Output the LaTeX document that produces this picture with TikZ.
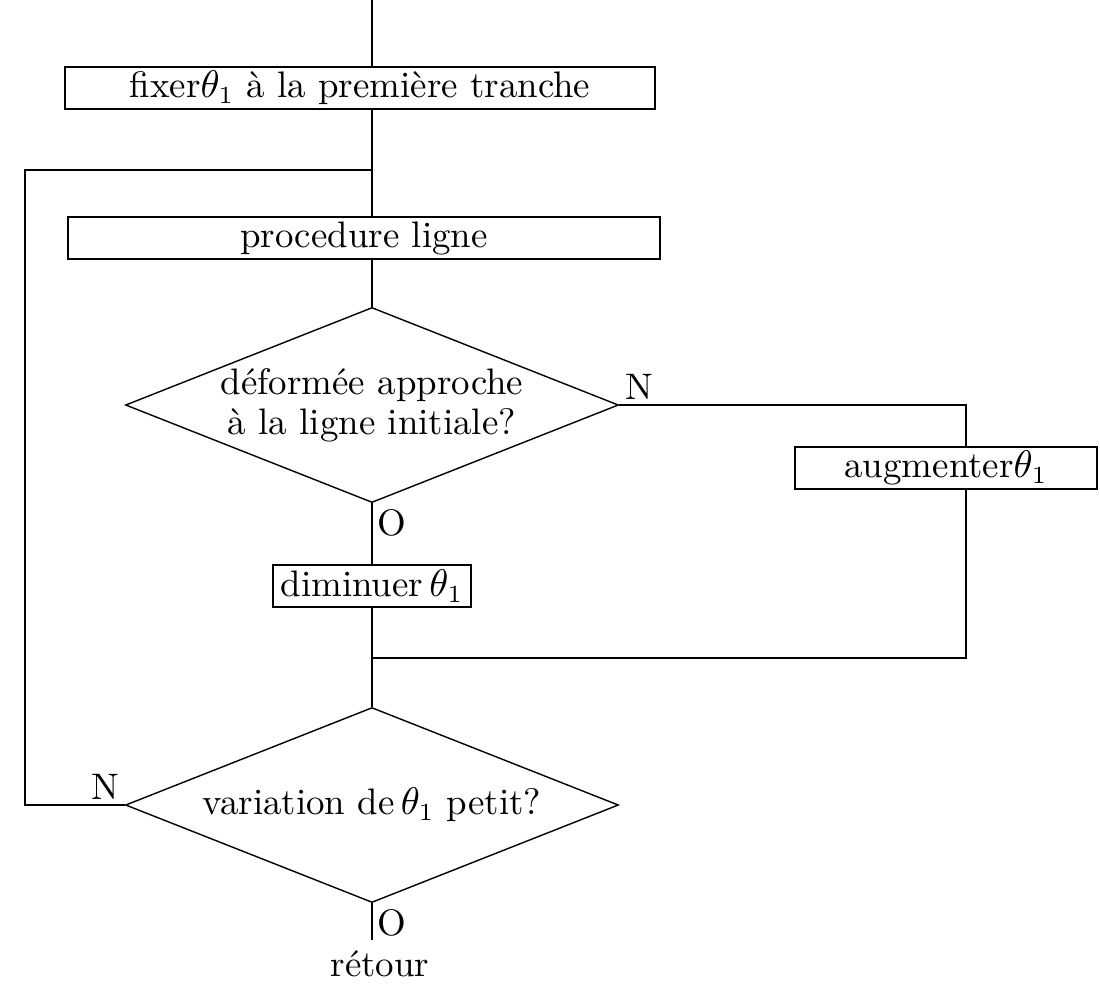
\documentclass[tikz,border=0pt]{standalone}
\usepackage{tikz}
\usetikzlibrary{shapes,positioning,calc}
\tikzset{
    procbox/.style={rectangle, draw, line width=0.4pt, minimum height=0.42cm, inner sep=1pt, font=\fontsize{10.5}{11.5}\selectfont},
    decision/.style={diamond, draw, line width=0.4pt, aspect=2.5, inner sep=0pt, minimum width=4.93cm, minimum height=1.95cm, align=center, font=\fontsize{10.5}{11.5}\selectfont},
    flow/.style={line width=0.4pt, black},
    branchlabel/.style={inner sep=1.5pt, font=\fontsize{10.5}{11.5}\selectfont},
}

\begin{document}
\begin{tikzpicture}
    \useasboundingbox (0,0) rectangle (11,-9.98);

    \coordinate (start) at (3.72,0);
    \node[procbox, minimum width=5.9cm] (fix) at (3.60,-0.88) {fixer$\theta_1$ à la première tranche};
    \coordinate (join1) at (3.72,-1.70);
    \node[procbox, minimum width=5.92cm] (ligne) at (3.64,-2.38) {procedure ligne};
    \node[decision] (test1) at (3.72,-4.05) {déformée approche\\à la ligne initiale?};
    \node[procbox, minimum width=3.02cm] (aug) at (9.46,-4.68) {augmenter$\theta_1$};
    \coordinate (right1) at (9.66,-4.05);
    \coordinate (right2) at (9.66,-6.58);
    \node[procbox, minimum width=1.98cm] (dim) at (3.72,-5.86) {diminuer\,$\theta_1$};
    \coordinate (join2) at (3.72,-6.58);
    \node[decision] (test2) at (3.72,-8.05) {variation de\,$\theta_1$ petit?};
    \coordinate (left1) at (0.25,-8.05);
    \coordinate (left2) at (0.25,-1.70);
    \coordinate (end) at (3.72,-9.40);
    \node[branchlabel, anchor=north] (ret) at (3.80,-9.45) {rétour};

    % main line
    \draw[flow] (start) -- (start |- fix.north);
    \draw[flow] (fix.south -| start) -- (join1) -- (join1 |- ligne.north);
    \draw[flow] (ligne.south -| join1) -- (test1.north);
    \draw[flow] (test1.south) -- (test1.south |- dim.north);
    \draw[flow] (dim.south -| join2) -- (join2) -- (test2.north);
    \draw[flow] (test2.south) -- (end);

    % branch N of first test
    \draw[flow] (test1.east) -- (right1) -- (right1 |- aug.north);
    \draw[flow] (right1 |- aug.south) -- (right2) -- (join2);

    % loop back
    \draw[flow] (test2.west) -- (left1) -- (left2) -- (join1);

    \node[branchlabel, anchor=south west] (n1) at (test1.east) {N};
    \node[branchlabel, anchor=north west] (o1) at (test1.south) {O};
    \node[branchlabel, anchor=south east] (n2) at (test2.west) {N};
    \node[branchlabel, anchor=north west] (o2) at (test2.south) {O};
\end{tikzpicture}
\end{document}
